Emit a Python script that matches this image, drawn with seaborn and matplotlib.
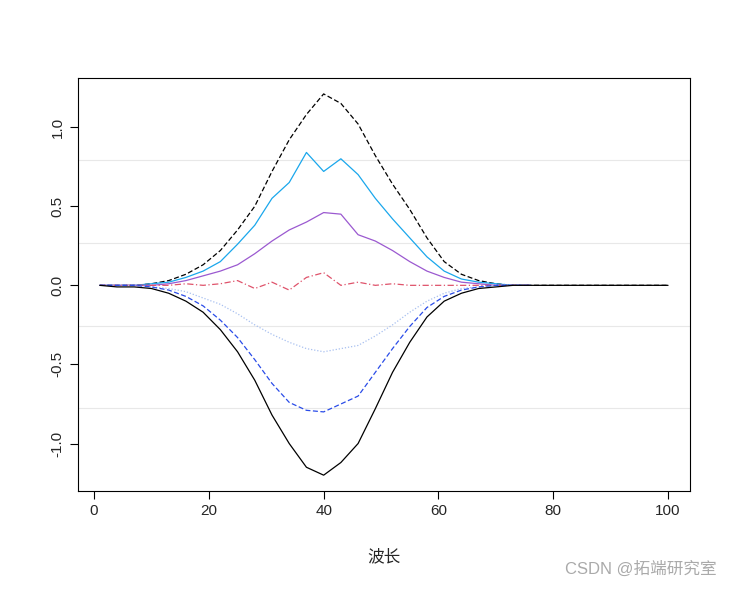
import numpy as np
import pandas as pd
import seaborn as sns
import matplotlib
matplotlib.use("Agg")
import matplotlib.pyplot as plt

sns.set_style("white")
plt.rcParams['font.family'] = ['Liberation Sans', 'Noto Sans CJK SC', 'DejaVu Sans']

wave = np.arange(1, 101, 3)          # 1, 4, ..., 100
wave_short = wave[:26]               # up to 76

upper_black = [0, 0, 0, 0.01, 0.03, 0.07, 0.13, 0.22, 0.35, 0.50, 0.72, 0.92, 1.08, 1.21, 1.15, 1.02, 0.82,
               0.64, 0.48, 0.30, 0.15, 0.07, 0.03, 0.01, 0, 0, 0, 0, 0, 0, 0, 0, 0, 0]
lower_black = [0, -0.01, -0.01, -0.02, -0.05, -0.10, -0.17, -0.28, -0.42, -0.60, -0.82, -1.00, -1.15, -1.20,
               -1.12, -1.00, -0.78, -0.55, -0.36, -0.20, -0.10, -0.05, -0.02, -0.01, 0, 0, 0, 0, 0, 0, 0, 0, 0, 0]
sky = [0, 0, 0, 0.01, 0.02, 0.05, 0.09, 0.15, 0.26, 0.38, 0.55, 0.65, 0.84, 0.72, 0.80, 0.70, 0.55, 0.42,
       0.30, 0.18, 0.09, 0.04, 0.02, 0.01, 0, 0]
purple = [0, 0, 0, 0, 0.01, 0.03, 0.06, 0.09, 0.13, 0.20, 0.28, 0.35, 0.40, 0.46, 0.45, 0.32, 0.28, 0.22,
          0.15, 0.09, 0.05, 0.02, 0.01, 0, 0, 0]
red = [0, 0, 0, 0, 0, 0.01, 0, 0.01, 0.03, -0.02, 0.02, -0.03, 0.05, 0.08, 0.0, 0.02, 0, 0.01,
       0, 0, 0, 0, 0, 0, 0, 0]
pale = [0, 0, 0, -0.01, -0.02, -0.04, -0.08, -0.12, -0.18, -0.25, -0.31, -0.36, -0.40, -0.42, -0.40, -0.38,
        -0.32, -0.25, -0.17, -0.10, -0.05, -0.02, -0.01, 0, 0, 0]
blue = [0, 0, 0, -0.01, -0.03, -0.07, -0.13, -0.22, -0.33, -0.47, -0.62, -0.74, -0.79, -0.80, -0.75, -0.70,
        -0.55, -0.40, -0.26, -0.14, -0.07, -0.03, -0.01, 0, 0, 0]

grid_y = [0.79, 0.266, -0.26, -0.778]

fig = plt.figure(figsize=(7.31, 5.89), dpi=100)
ax = fig.add_axes([0.1067, 0.1664, 0.837, 0.701])

for y in grid_y:
    ax.axhline(y, color='#e8e8e8', lw=0.8, zorder=0)

series = [
    (wave, upper_black, 'black', (0, (4, 2))),
    (wave_short, sky, '#1aa7ec', '-'),
    (wave_short, purple, '#9b59d0', '-'),
    (wave_short, red, '#df536b', (0, (5, 2, 1, 2))),
    (wave_short, pale, '#a8c0f0', (0, (1, 1.5))),
    (wave_short, blue, '#2a4ce8', (0, (4, 2))),
    (wave, lower_black, 'black', '-'),
]
for xs, ys, c, ls in series:
    sns.lineplot(x=xs, y=ys, color=c, linestyle=ls, lw=0.9, ax=ax)

ax.set_xlim(-2.8, 103.8)
ax.set_ylim(-1.30, 1.31)
ax.set_xticks([0, 20, 40, 60, 80, 100])
ax.set_yticks([-1.0, -0.5, 0.0, 0.5, 1.0])
ax.set_yticklabels(['-1.0', '-0.5', '0.0', '0.5', '1.0'], rotation=90, va='center')
ax.tick_params(axis='both', direction='out', length=6, width=0.8, labelsize=11, color='black',
               left=True, bottom=True)
for s in ax.spines.values():
    s.set_color('black')
    s.set_linewidth(0.8)
ax.set_xlabel('波长', fontsize=12, labelpad=22)

fig.text(0.98, 0.02, 'CSDN @拓端研究室', ha='right', va='bottom', fontsize=12, color='#aaaaaa')

fig.savefig('out.png', dpi=100)
